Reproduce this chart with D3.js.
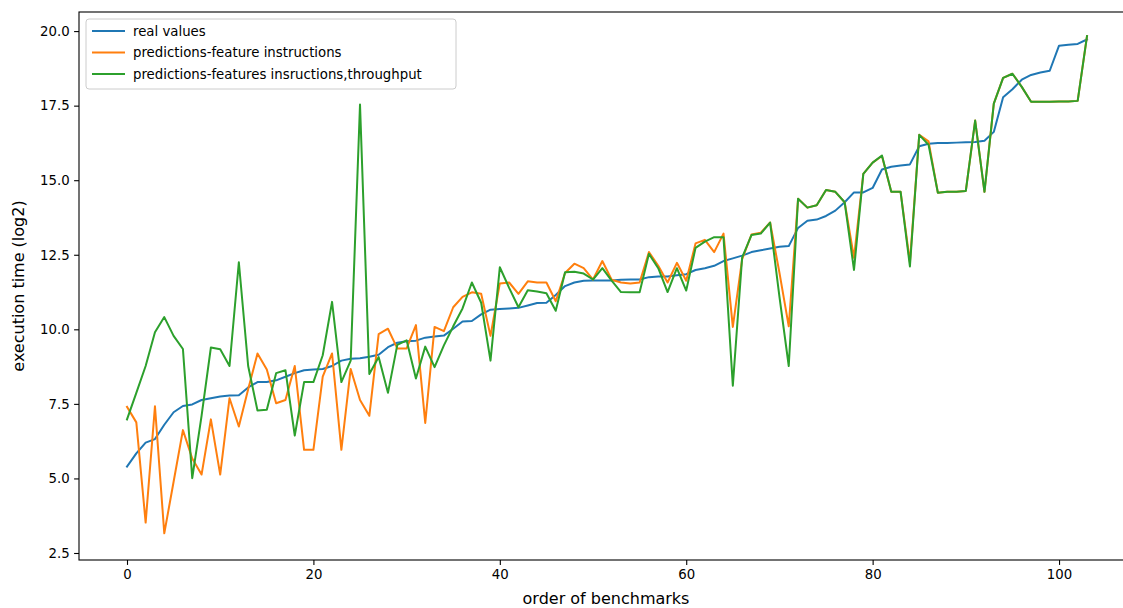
<!DOCTYPE html>
<html>
<head>
<meta charset="utf-8">
<script src="https://cdn.jsdelivr.net/npm/d3@7"></script>
<style>
body { margin: 0; background: #fff; }
svg { display: block; font-family: "DejaVu Sans", sans-serif; }
</style>
</head>
<body>
<svg id="chart" width="1123" height="608"></svg>
<script>
/* values, index = order of benchmarks */
var realValues = [5.40, 5.84, 6.20, 6.32, 6.80, 7.22, 7.43, 7.48, 7.63, 7.69,
	7.75, 7.78, 7.79, 8.05, 8.23, 8.23, 8.29, 8.41, 8.53, 8.63,
	8.65, 8.67, 8.77, 8.95, 9.01, 9.03, 9.08, 9.15, 9.40, 9.55,
	9.60, 9.62, 9.72, 9.76, 9.79, 10.02, 10.26, 10.28, 10.50, 10.66,
	10.68, 10.70, 10.72, 10.80, 10.88, 10.89, 11.15, 11.45, 11.57, 11.63,
	11.64, 11.64, 11.64, 11.66, 11.67, 11.67, 11.75, 11.77, 11.77, 11.81,
	11.85, 11.99, 12.05, 12.13, 12.29, 12.38, 12.47, 12.59, 12.65, 12.71,
	12.77, 12.79, 13.40, 13.64, 13.68, 13.80, 13.98, 14.26, 14.59, 14.59,
	14.74, 15.36, 15.45, 15.49, 15.53, 16.14, 16.22, 16.25, 16.25, 16.26,
	16.27, 16.28, 16.32, 16.62, 17.78, 18.05, 18.37, 18.53, 18.61, 18.67,
	19.51, 19.54, 19.57, 19.72];

var predInstr = [7.40, 6.88, 3.52, 7.42, 3.16, 4.89, 6.62, 5.67, 5.13, 6.98,
	5.13, 7.69, 6.74, 7.99, 9.19, 8.65, 7.52, 7.63, 8.77, 5.96,
	5.96, 8.41, 9.19, 5.96, 8.67, 7.63, 7.10, 9.84, 10.02, 9.36,
	9.36, 10.14, 6.86, 10.08, 9.94, 10.74, 11.09, 11.24, 11.19, 9.78,
	11.54, 11.57, 11.19, 11.61, 11.57, 11.57, 10.94, 11.89, 12.20, 12.05,
	11.67, 12.29, 11.66, 11.57, 11.54, 11.57, 12.59, 12.13, 11.57, 12.23,
	11.63, 12.88, 13.00, 12.59, 13.21, 10.08, 12.35, 13.18, 13.24, 13.58,
	11.90, 10.10, 14.38, 14.08, 14.16, 14.67, 14.61, 14.26, 12.40, 15.21,
	15.59, 15.81, 14.61, 14.61, 12.25, 16.52, 16.30, 14.58, 14.61, 14.61,
	14.64, 17.00, 14.61, 17.57, 18.43, 18.57, 18.13, 17.63, 17.63, 17.63,
	17.64, 17.64, 17.66, 19.83];

var predInstrThroughput = [6.98, 7.87, 8.77, 9.90, 10.41, 9.78, 9.34, 5.01, 7.10, 9.39,
	9.33, 8.77, 12.25, 8.77, 7.28, 7.30, 8.53, 8.63, 6.44, 8.23,
	8.23, 9.13, 10.92, 8.23, 8.95, 17.54, 8.50, 9.07, 7.87, 9.48,
	9.63, 8.35, 9.42, 8.73, 9.46, 10.10, 10.70, 11.57, 10.89, 8.95,
	12.08, 11.39, 10.74, 11.31, 11.27, 11.21, 10.62, 11.91, 11.93, 11.87,
	11.67, 12.05, 11.63, 11.25, 11.24, 11.24, 12.53, 12.05, 11.25, 12.05,
	11.30, 12.73, 12.94, 13.09, 13.09, 8.11, 12.41, 13.16, 13.21, 13.58,
	11.10, 8.77, 14.38, 14.08, 14.16, 14.67, 14.61, 14.26, 11.99, 15.21,
	15.59, 15.83, 14.61, 14.61, 12.11, 16.52, 16.19, 14.58, 14.61, 14.61,
	14.64, 17.00, 14.61, 17.57, 18.43, 18.57, 18.13, 17.63, 17.63, 17.63,
	17.64, 17.64, 17.66, 19.83];

var seriesNames = ["real values", "predictions-feature instructions", "predictions-features insructions,throughput"];
var seriesColors = ["#1f77b4", "#ff7f0e", "#2ca02c"];
var xTicks = [0, 20, 40, 60, 80, 100];
var yTicks = [2.5, 5.0, 7.5, 10.0, 12.5, 15.0, 17.5, 20.0];

var svg = d3.select("#chart");
var plotL = 79, plotR = 1135, plotT = 12, plotB = 560;

var x = d3.scaleLinear().domain([-5.15, 108.15]).range([plotL, plotR]);
var y = d3.scaleLinear().domain([2.265, 20.64]).range([plotB, plotT]);

var line = d3.line()
	.x(function(d, i){ return x(i); })
	.y(function(d){ return y(d); });

svg.append("defs").append("clipPath").attr("id", "plot")
	.append("rect").attr("x", plotL).attr("y", plotT)
	.attr("width", plotR - plotL).attr("height", plotB - plotT);

var allSeries = [realValues, predInstr, predInstrThroughput];
for (var s = 0; s < allSeries.length; s += 1){
	svg.append("path")
		.datum(allSeries[s])
		.attr("clip-path", "url(#plot)")
		.attr("d", line)
		.attr("fill", "none")
		.attr("stroke", seriesColors[s])
		.attr("stroke-width", 2)
		.attr("stroke-linejoin", "round")
		.attr("stroke-linecap", "square");
}

// axes
var xAxis = svg.append("g")
	.attr("transform", "translate(0," + plotB + ")")
	.call(d3.axisBottom(x).tickValues(xTicks).tickSize(4.9).tickPadding(4.5).tickFormat(d3.format("d")));
var yAxis = svg.append("g")
	.attr("transform", "translate(" + plotL + ",0)")
	.call(d3.axisLeft(y).tickValues(yTicks).tickSize(4.9).tickPadding(4.5).tickFormat(d3.format(".1f")));

[xAxis, yAxis].forEach(function(g){
	g.select(".domain").remove();
	g.selectAll(".tick line").attr("stroke", "#000").attr("stroke-width", 1.1);
	g.selectAll(".tick text").attr("fill", "#000").style("font-size", "13.3px")
		.style("font-family", "DejaVu Sans");
});

// frame
svg.append("rect")
	.attr("x", plotL).attr("y", plotT)
	.attr("width", plotR - plotL).attr("height", plotB - plotT)
	.attr("fill", "none").attr("stroke", "#000").attr("stroke-width", 1.1);

// axis labels
svg.append("text")
	.attr("x", 606).attr("y", 604)
	.attr("text-anchor", "middle")
	.style("font-size", "16px")
	.text("order of benchmarks");
svg.append("text")
	.attr("transform", "translate(24," + ((plotT + plotB) / 2) + ")rotate(-90)")
	.attr("text-anchor", "middle")
	.style("font-size", "16px")
	.text("execution time (log2)");

// legend
var legend = svg.append("g").attr("transform", "translate(86,19)");
legend.append("rect")
	.attr("width", 370).attr("height", 70).attr("rx", 3)
	.attr("fill", "#fff").attr("fill-opacity", 0.8)
	.attr("stroke", "#ccc").attr("stroke-width", 1);
for (var k = 0; k < seriesNames.length; k += 1){
	var ly = 12 + k * 21.5;
	legend.append("line")
		.attr("x1", 6).attr("x2", 39).attr("y1", ly).attr("y2", ly)
		.attr("stroke", seriesColors[k]).attr("stroke-width", 2);
	legend.append("text")
		.attr("x", 47).attr("y", ly + 4.8)
		.style("font-size", "13.3px")
		.text(seriesNames[k]);
}
</script>
</body>
</html>
